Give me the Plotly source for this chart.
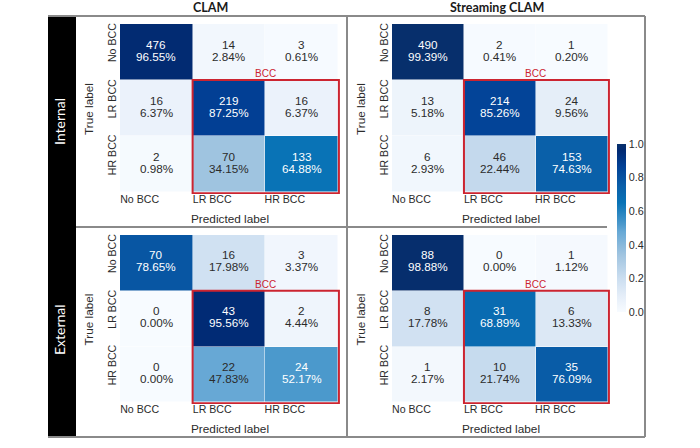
# Confusion matrices: CLAM vs Streaming CLAM, internal and external test sets
import plotly.graph_objects as go
from plotly.subplots import make_subplots

W, H = 700, 448

CLASSES = ["No BCC", "LR BCC", "HR BCC"]
MODELS = ["CLAM", "Streaming CLAM"]
COHORTS = ["Internal", "External"]

clam_int_counts = [[476, 14, 3], [16, 219, 16], [2, 70, 133]]
clam_int_pct = [[96.55, 2.84, 0.61], [6.37, 87.25, 6.37], [0.98, 34.15, 64.88]]
stream_int_counts = [[490, 2, 1], [13, 214, 24], [6, 46, 153]]
stream_int_pct = [[99.39, 0.41, 0.20], [5.18, 85.26, 9.56], [2.93, 22.44, 74.63]]
clam_ext_counts = [[70, 16, 3], [0, 43, 2], [0, 22, 24]]
clam_ext_pct = [[78.65, 17.98, 3.37], [0.00, 95.56, 4.44], [0.00, 47.83, 52.17]]
stream_ext_counts = [[88, 0, 1], [8, 31, 6], [1, 10, 35]]
stream_ext_pct = [[98.88, 0.00, 1.12], [17.78, 68.89, 13.33], [2.17, 21.74, 76.09]]

CBAR_TICKS = [0.0, 0.2, 0.4, 0.6, 0.8, 1.0]

# colours
BLUES = [
    [0.0, "#f7fbff"],
    [0.1, "#e4edf8"],
    [0.2, "#cbdef0"],
    [0.34, "#a0c4e0"],
    [0.48, "#66a8d5"],
    [0.52, "#4c99cc"],
    [0.65, "#0873b6"],
    [0.75, "#0a5fa9"],
    [0.87, "#024095"],
    [0.96, "#012a73"],
    [1.0, "#08306b"],
]

DARK = "#2b2b2b"
RED = "#cc2430"
FRAME = "#8a8a8a"
TEXT_FONT = "Liberation Sans, Arial, sans-serif"
HEAD_FONT = "Lato, sans-serif"

# a little room past the last cell, so the red box is not cut off
PAD = 0.03


def px_x(p):
    return p / W


def px_y(p):
    return 1 - p / H


# (row, col, counts, percents, left, right, top, bottom in pixels)
panels = [
    (1, 1, clam_int_counts, clam_int_pct, 120, 340, 24, 194),
    (1, 2, stream_int_counts, stream_int_pct, 392, 610, 24, 194),
    (2, 1, clam_ext_counts, clam_ext_pct, 120, 340, 235, 404),
    (2, 2, stream_ext_counts, stream_ext_pct, 392, 610, 235, 404),
]

fig = make_subplots(rows=2, cols=2)

for row, col, counts, pct, left, right, top, bottom in panels:
    z = [[v / 100 for v in line] for line in pct]
    show = row == 1 and col == 2
    fig.add_trace(
        go.Heatmap(
            z=z,
            x=[0, 1, 2],
            y=[0, 1, 2],
            zmin=0,
            zmax=1,
            colorscale=BLUES,
            xgap=0.5,
            ygap=0.5,
            showscale=show,
            colorbar=dict(
                x=px_x(617),
                xanchor="left",
                xpad=0,
                y=px_y(312),
                yanchor="bottom",
                ypad=0,
                len=168 / H,
                thickness=9,
                outlinewidth=0,
                tickvals=CBAR_TICKS,
                tickformat=".1f",
                ticks="",
                tickfont=dict(size=10.8, color=DARK, family=TEXT_FONT),
            ),
            hoverinfo="skip",
        ),
        row=row, col=col,
    )
    fig.update_xaxes(
        domain=[px_x(left), px_x(right)],
        range=[-0.5, 2.5 + PAD],
        tickvals=[-0.23, 0.77, 1.77],
        ticktext=CLASSES,
        tickangle=0,
        ticklen=0,
        ticklabelstandoff=-3,
        showgrid=False,
        zeroline=False,
        tickfont=dict(size=10.6, color=DARK, family=TEXT_FONT),
        title=dict(text="Predicted label", standoff=11,
                   font=dict(size=11.8, color=DARK, family=TEXT_FONT)),
        row=row, col=col,
    )
    fig.update_yaxes(
        domain=[px_y(bottom), px_y(top)],
        range=[2.5 + PAD, -0.5],
        tickvals=[-0.14, 0.86, 1.86],
        ticktext=CLASSES,
        tickangle=-90,
        ticklen=0,
        ticklabelstandoff=1,
        showgrid=False,
        zeroline=False,
        tickfont=dict(size=10.6, color=DARK, family=TEXT_FONT),
        title=dict(text="True label", standoff=9,
                   font=dict(size=11.8, color=DARK, family=TEXT_FONT)),
        row=row, col=col,
    )

    # cell texts, two lines placed closer than plotly's <br> allows
    for i in range(3):
        for j in range(3):
            color = "white" if pct[i][j] > 50 else DARK
            fig.add_annotation(x=j, y=i, text=str(counts[i][j]), showarrow=False, yshift=8,
                               font=dict(size=11.7, color=color, family=TEXT_FONT),
                               row=row, col=col)
            fig.add_annotation(x=j, y=i, text=f"{pct[i][j]:.2f}%", showarrow=False, yshift=-4,
                               font=dict(size=11.7, color=color, family=TEXT_FONT),
                               row=row, col=col)

    # BCC box around the two positive classes
    fig.add_shape(type="rect", x0=0.5, x1=2.5 + PAD / 2, y0=0.5, y1=2.5 + PAD / 2,
                  line=dict(color=RED, width=2), row=row, col=col)
    fig.add_annotation(x=1.5, y=0.5, text="BCC", showarrow=False, yanchor="bottom", yshift=-1,
                       font=dict(size=10, color=RED, family=TEXT_FONT),
                       row=row, col=col)

# side band and frame in page coordinates
fig.add_shape(type="rect", xref="paper", yref="paper", layer="below",
              x0=px_x(48), x1=px_x(76), y0=px_y(437), y1=px_y(16),
              fillcolor="black", line_width=0)

frame_lines = [
    (48, 16, 645, 16),
    (48, 437, 645, 437),
    (645, 16, 645, 437),
    (347, 16, 347, 437),
    (76, 227, 607, 227),
]
for x0, y0, x1, y1 in frame_lines:
    fig.add_shape(type="line", xref="paper", yref="paper",
                  x0=px_x(x0), x1=px_x(x1), y0=px_y(y0), y1=px_y(y1),
                  line=dict(color=FRAME, width=2))

for name, cx in zip(MODELS, [210, 497]):
    fig.add_annotation(xref="paper", yref="paper", x=px_x(cx), y=px_y(7), text=name,
                       xanchor="center", yanchor="middle", showarrow=False,
                       font=dict(size=12.5, color="#1a1a1a", family=HEAD_FONT, weight=700))

for name, cy in zip(COHORTS, [122, 330]):
    fig.add_annotation(xref="paper", yref="paper", x=px_x(59), y=px_y(cy), text=name,
                       xanchor="center", yanchor="middle", textangle=-90, showarrow=False,
                       font=dict(size=14, color="white", family=HEAD_FONT))

fig.update_layout(
    width=W,
    height=H,
    margin=dict(l=0, r=0, t=0, b=0),
    paper_bgcolor="white",
    plot_bgcolor="white",
    showlegend=False,
)

fig.write_html("out.html", config={"displayModeBar": False},
               post_script="document.body.style.margin='0';")
